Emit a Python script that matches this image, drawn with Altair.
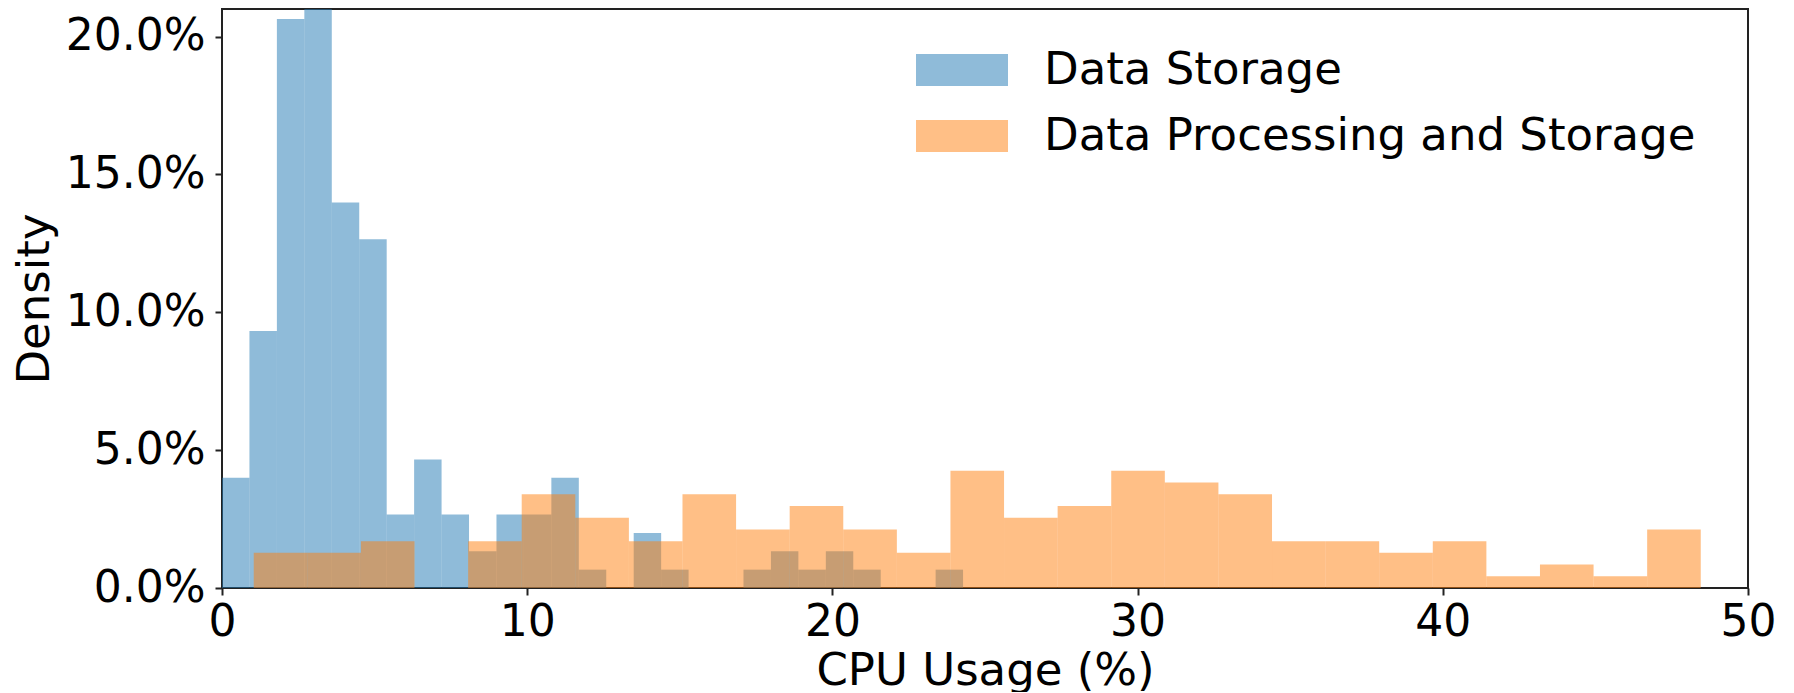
import altair as alt
import numpy as np
import pandas as pd

# ---- data ----
series_names = ["Data Storage", "Data Processing and Storage"]
series_colors = ["#1f77b4", "#ff7f0e"]

# Data Storage: 27 bins from 0 to ~24.28
storage_bin_start = 0.0
storage_bin_width = 0.8993
storage_counts = [6, 14, 31, 32, 21, 19, 4, 7, 4, 2, 4, 4, 6, 1, 0, 3, 1, 0, 0, 1, 2, 1, 2, 1, 0, 0, 1]

# Data Processing and Storage: 27 bins from ~1.04 to ~48.45
proc_bin_start = 1.04
proc_bin_width = 1.756
proc_counts = [3, 3, 4, 0, 4, 8, 6, 4, 8, 5, 7, 5, 3, 10, 6, 7, 10, 9, 8, 4, 4, 3, 4, 1, 2, 1, 5]

x_ticks = [0, 10, 20, 30, 40, 50]
y_ticks = [0.0, 0.05, 0.10, 0.15, 0.20]


def hist_rows(name, start, width, counts):
    total = float(sum(counts))
    rows = []
    for k, c in enumerate(counts):
        if c == 0:
            continue
        lo = start + k * width
        rows.append({"series": name, "lo": lo, "hi": lo + width,
                     "density": c / (total * width)})
    return rows


rows = hist_rows(series_names[0], storage_bin_start, storage_bin_width, storage_counts)
rows += hist_rows(series_names[1], proc_bin_start, proc_bin_width, proc_counts)
df = pd.DataFrame(rows)

FONT = "DejaVu Sans"

chart = alt.Chart(df).mark_rect(opacity=0.5, clip=True).encode(
    x=alt.X("lo:Q",
            scale=alt.Scale(domain=[0, 50], nice=False, zero=False),
            axis=alt.Axis(values=x_ticks, title="CPU Usage (%)", format="d",
                          labelFlush=False, labelPadding=5,
                          titleY=96, titleBaseline="alphabetic")),
    x2="hi:Q",
    y=alt.Y("density:Q",
            scale=alt.Scale(domain=[0, 0.21], nice=False),
            axis=alt.Axis(values=y_ticks, format=".1%", title="Density",
                          labelFlush=False, labelPadding=10,
                          titleX=-174, titleY=289.5,
                          titleAngle=270, titleBaseline="alphabetic",
                          titleAlign="center")),
    y2=alt.datum(0),
    color=alt.Color("series:N",
                    scale=alt.Scale(domain=series_names, range=series_colors),
                    legend=alt.Legend(title=None, orient="none", legendX=710, legendY=31,
                                      symbolType="M-1.5333,-0.5333H1.5333V0.5333H-1.5333Z",
                                      symbolSize=3600, symbolStrokeWidth=0,
                                      symbolOpacity=0.5,
                                      labelFont=FONT, labelFontSize=45,
                                      labelColor="black", labelOffset=52,
                                      labelLimit=1000, rowPadding=13, padding=0)),
).properties(
    width=1526,
    height=579,
    autosize=alt.AutoSizeParams(type="none"),
    padding={"left": 214, "top": 1, "right": 36, "bottom": 104},
).configure_view(
    stroke="#222222", strokeWidth=2
).configure_axis(
    domain=False, grid=False,
    tickColor="#222222", tickWidth=2, tickSize=7,
    labelFont=FONT, labelFontSize=44, labelColor="black",
    titleFont=FONT, titleFontSize=45, titleFontWeight="normal", titleColor="black",
)

chart.save("out.html", embed_options={"renderer": "svg", "actions": False})
